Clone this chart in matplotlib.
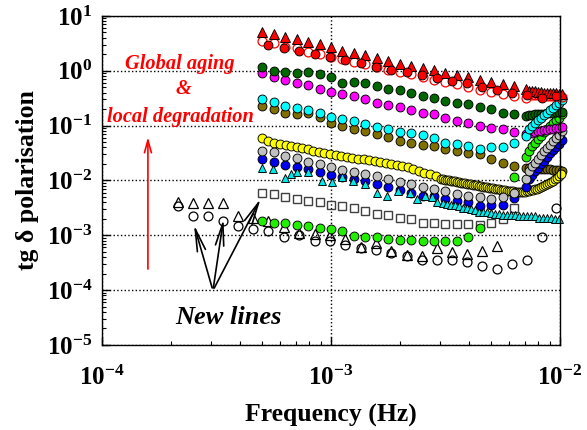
import matplotlib
matplotlib.use('Agg')
import matplotlib.pyplot as plt
from matplotlib.ticker import LogLocator, NullFormatter

plt.rcParams['font.family'] = ['Liberation Serif', 'DejaVu Serif']
plt.rcParams['mathtext.fontset'] = 'custom'
plt.rcParams['mathtext.rm'] = 'Liberation Serif:bold'
plt.rcParams['mathtext.bf'] = 'Liberation Serif:bold'

# frequency grids (Hz)
freq_main = [5.0e-4, 5.62e-4, 6.31e-4, 7.08e-4, 7.94e-4, 8.91e-4, 1.0e-3, 1.12e-3, 1.26e-3, 1.41e-3,
             1.58e-3, 1.78e-3, 2.0e-3, 2.24e-3, 2.51e-3, 2.82e-3, 3.16e-3, 3.55e-3, 3.98e-3, 4.47e-3,
             5.01e-3, 5.62e-3, 6.31e-3, 7.08e-3]
freq_tail = [7.32e-3, 7.54e-3, 7.78e-3, 8.01e-3, 8.26e-3, 8.51e-3, 8.77e-3, 9.04e-3, 9.32e-3, 9.61e-3,
             9.90e-3, 1.02e-2]
freq_sparse = [2.15e-4, 2.50e-4, 2.90e-4, 3.38e-4, 3.93e-4, 4.56e-4, 5.31e-4, 6.23e-4, 7.24e-4, 8.51e-4,
               9.90e-4, 1.15e-3, 1.35e-3, 1.57e-3, 1.83e-3, 2.15e-3, 2.50e-3, 2.90e-3, 3.38e-3, 3.93e-3,
               4.56e-3, 5.31e-3, 6.17e-3, 7.18e-3, 8.34e-3, 9.61e-3]
freq_dense = [3.084e-3, 3.147e-3, 3.211e-3, 3.276e-3, 3.343e-3, 3.411e-3, 3.480e-3, 3.551e-3, 3.623e-3,
              3.697e-3, 3.772e-3, 3.849e-3, 3.927e-3, 4.007e-3, 4.088e-3, 4.171e-3, 4.256e-3, 4.343e-3,
              4.431e-3, 4.521e-3, 4.613e-3, 4.707e-3, 4.803e-3, 4.900e-3, 5.000e-3, 5.102e-3, 5.205e-3,
              5.311e-3, 5.419e-3, 5.529e-3, 5.642e-3, 5.757e-3, 5.874e-3, 5.993e-3, 6.115e-3, 6.239e-3,
              6.366e-3, 6.496e-3, 6.628e-3, 6.762e-3, 6.900e-3, 7.040e-3, 7.183e-3, 7.329e-3, 7.478e-3,
              7.630e-3, 7.785e-3, 7.944e-3, 8.105e-3, 8.270e-3, 8.438e-3, 8.610e-3, 8.785e-3, 8.963e-3,
              9.146e-3, 9.331e-3, 9.521e-3, 9.715e-3, 9.912e-3, 1.011e-2]
freq_yellow = [5.0e-4, 5.32e-4, 5.64e-4, 5.98e-4, 6.34e-4, 6.69e-4, 7.08e-4, 7.49e-4, 7.91e-4, 8.37e-4,
               8.87e-4, 9.32e-4, 9.90e-4, 1.05e-3, 1.11e-3, 1.17e-3, 1.24e-3, 1.31e-3, 1.39e-3, 1.47e-3,
               1.55e-3, 1.64e-3, 1.73e-3, 1.83e-3, 1.94e-3, 2.05e-3, 2.16e-3, 2.29e-3, 2.42e-3, 2.55e-3,
               2.70e-3, 2.86e-3, 3.02e-3] + freq_dense
freq_tri = [5.0e-4, 5.58e-4, 6.30e-4, 6.69e-4, 7.08e-4, 7.94e-4, 9.14e-4, 1.01e-3, 1.12e-3, 1.25e-3,
            1.41e-3, 1.59e-3, 1.76e-3, 1.96e-3, 2.21e-3, 2.38e-3, 2.57e-3, 2.76e-3, 2.90e-3]

# tg delta values
red_tri = [5.1, 4.7, 4.2, 3.8, 3.4, 3.1, 2.7, 2.3, 2.1, 1.95, 1.72, 1.52, 1.34, 1.23, 1.13, 1.04, 0.92,
           0.85, 0.78, 0.69, 0.62, 0.58, 0.53, 0.47,
           0.43, 0.42, 0.42, 0.41, 0.41, 0.40, 0.40, 0.40, 0.39, 0.39, 0.38, 0.38]
red_open = [3.56, 3.23, 2.73, 2.62, 2.21, 2.04, 1.80, 1.65, 1.46, 1.34, 1.18, 1.04, 0.96, 0.88, 0.78,
            0.69, 0.63, 0.58, 0.51, 0.45, 0.415, 0.38, 0.34, 0.32,
            0.37, 0.36, 0.36, 0.36, 0.35, 0.35, 0.35, 0.34, 0.34, 0.34, 0.34, 0.33]
red_full = [2.97, 2.62, 2.31, 2.04, 1.80, 1.58, 1.40, 1.18, 1.04, 0.96, 0.85, 0.75, 0.66, 0.60, 0.51,
            0.45, 0.40, 0.36, 0.32, 0.35]
dark_green = [1.18, 1.0, 0.96, 0.91, 0.96, 0.88, 0.78, 0.60, 0.63, 0.60, 0.53, 0.47, 0.45, 0.40, 0.34,
              0.32, 0.285, 0.26, 0.25, 0.22, 0.20, 0.17, 0.165, 0.15,
              0.158, 0.158, 0.162, 0.162, 0.165, 0.165, 0.169, 0.172, 0.172, 0.176, 0.18, 0.18]
magenta = [0.92, 0.78, 0.69, 0.60, 0.56, 0.47, 0.41, 0.38, 0.34, 0.30, 0.26, 0.24, 0.22, 0.195, 0.17,
           0.16, 0.14, 0.123, 0.113, 0.10, 0.092, 0.085, 0.075, 0.07,
           0.072, 0.074, 0.076, 0.078, 0.08, 0.082, 0.084, 0.086, 0.088, 0.09, 0.092, 0.094]
cyan = [0.30, 0.27, 0.23, 0.21, 0.19, 0.17, 0.146, 0.129, 0.12, 0.105, 0.096, 0.085, 0.075, 0.072,
        0.066, 0.060, 0.049, 0.047, 0.043, 0.038, 0.040, 0.040, 0.049, 0.065,
        0.085, 0.097, 0.11, 0.125, 0.14, 0.155, 0.17, 0.19, 0.21, 0.235, 0.26, 0.29]
olive = [0.23, 0.20, 0.17, 0.16, 0.17, 0.146, 0.113, 0.10, 0.088, 0.078, 0.069, 0.061, 0.053, 0.049,
         0.045, 0.042, 0.037, 0.034, 0.032, 0.030, 0.025, 0.021, 0.018, 0.017,
         0.017, 0.017, 0.0165, 0.0165, 0.016, 0.016, 0.016, 0.0158, 0.0156, 0.0155, 0.0153, 0.015]
yellow = [0.060, 0.052, 0.048, 0.0465, 0.044, 0.042, 0.040, 0.039, 0.038, 0.035, 0.033, 0.032, 0.0306,
          0.029, 0.0277, 0.0265, 0.0259, 0.0248, 0.0241, 0.0234, 0.0224, 0.0215, 0.021, 0.0201, 0.019,
          0.0182, 0.0175, 0.0158, 0.0148, 0.0138, 0.0129, 0.0120, 0.0107,
          0.0104, 0.0103, 0.0101, 0.0100, 0.0098, 0.0097, 0.0096, 0.0094, 0.0093, 0.0091, 0.0090,
          0.0089, 0.0087, 0.0086, 0.0085, 0.0084, 0.0082, 0.0081, 0.0080, 0.0078, 0.0077, 0.0076,
          0.0075, 0.0074, 0.0073, 0.0072, 0.0071, 0.0069, 0.0069, 0.0068, 0.0067, 0.0066, 0.0065,
          0.0064, 0.0064, 0.0063, 0.0062, 0.0062, 0.0062, 0.0062, 0.0062, 0.0062, 0.0064, 0.0064,
          0.0067, 0.0068, 0.0069, 0.0071, 0.0074, 0.0076, 0.0078, 0.0081, 0.0085, 0.0088, 0.0093,
          0.0098, 0.0104, 0.0112, 0.0121, 0.0132]
gray = [0.0337, 0.0323, 0.0273, 0.0251, 0.0221, 0.0195, 0.0172, 0.0152, 0.0140, 0.0129, 0.0118, 0.0104,
        0.0092, 0.0085, 0.0075, 0.0069, 0.0063, 0.0056, 0.0051, 0.0049, 0.0045, 0.0049, 0.0060, 0.0105,
        0.015, 0.018, 0.021, 0.025, 0.029, 0.034, 0.039, 0.045, 0.052, 0.060, 0.068, 0.078]
blue = [0.0241, 0.0212, 0.0187, 0.0172, 0.0158, 0.0140, 0.0123, 0.0113, 0.0104, 0.0096, 0.0085, 0.0075,
        0.0066, 0.0060, 0.0053, 0.0051, 0.0045, 0.0042, 0.0040, 0.0034, 0.0036, 0.0036, 0.0047, 0.0075,
        0.0105, 0.0125, 0.015, 0.017, 0.020, 0.023, 0.027, 0.031, 0.036, 0.041, 0.047, 0.054]
cyan_tri = [0.0165, 0.0158, 0.0109, 0.0129, 0.0140, 0.0140, 0.0096, 0.0092, 0.0113, 0.0096, 0.0085,
            0.0060, 0.0051, 0.0063, 0.0060, 0.0045, 0.0051, 0.0049, 0.0040]
# dense part of the cyan-triangle sweep, one value every other freq_dense point
cyan_tri_dense = [0.0038, 0.0037, 0.0036, 0.0035, 0.0034, 0.0032, 0.0031, 0.0030, 0.0029, 0.0027,
                  0.0026, 0.0026, 0.0025, 0.0024, 0.0024, 0.0023, 0.0023, 0.0023, 0.0023, 0.0022,
                  0.0022, 0.0022, 0.0022, 0.0022, 0.0021, 0.0021, 0.0021, 0.0021, 0.0020, 0.0020]
squares = [0.0060, 0.0056, 0.0049, 0.0045, 0.0042, 0.0040, 0.0035, 0.0034, 0.0031, 0.0028, 0.0024,
           0.0023, 0.0021, 0.0020, 0.0017, 0.00166, 0.0016, 0.0016, 0.0016, 0.00153, 0.0017, 0.0020,
           0.0032]
lime = [0.0018, 0.0017, 0.00166, 0.00153, 0.00147, 0.00136, 0.0013, 0.0012, 0.00098, 0.00094, 0.00094,
        0.00087, 0.00083, 0.00083, 0.0008, 0.0008, 0.00077, 0.0008, 0.00094, 0.00136,
        0.0115, 0.027,
        0.035, 0.042, 0.049, 0.057, 0.065, 0.075, 0.085, 0.097, 0.11, 0.125, 0.14, 0.16]
new_tri = [0.0040, 0.0039, 0.0039, 0.0039, 0.0022, 0.0021, 0.0018, 0.0014, 0.0011, 0.00105, 0.0010,
           0.00085, 0.0006, 0.00071, 0.00052, 0.00044, 0.00042, 0.00058, 0.00049, 0.00045, 0.00052,
           0.00063]
new_circ = [0.0034, 0.0022, 0.0022, 0.0018, 0.0015, 0.0013, 0.00117, 0.00091, 0.00099, 0.00078, 0.00078,
            0.00066, 0.00058, 0.00053, 0.00047, 0.00041, 0.00035, 0.00035, 0.00036, 0.00032, 0.00027,
            0.00024, 0.00030, 0.00035, 0.00091, 0.0032]

x_ticks = [1e-4, 1e-3, 1e-2]
x_ticklabels = [r'$\mathbf{10^{-4}}$', r'$\mathbf{10^{-3}}$', r'$\mathbf{10^{-2}}$']
y_ticks = [1e-5, 1e-4, 1e-3, 1e-2, 1e-1, 1e0, 1e1]
y_ticklabels = [r'$\mathbf{10^{-5}}$', r'$\mathbf{10^{-4}}$', r'$\mathbf{10^{-3}}$', r'$\mathbf{10^{-2}}$',
                r'$\mathbf{10^{-1}}$', r'$\mathbf{10^{0}}$', r'$\mathbf{10^{1}}$']

fig = plt.figure(figsize=(5.87, 4.30), dpi=100)
ax = fig.add_axes([0.174, 0.198, 0.780, 0.765])

ms = 6.4
ew = 0.65


def dots(x, y, face, edge='black', marker='o', size=ms, lw=ew):
    ax.plot(x[:len(y)], y, linestyle='none', marker=marker, markersize=size, markerfacecolor=face,
            markeredgecolor=edge, markeredgewidth=lw, clip_on=False)


main_tail = freq_main + freq_tail
dots(freq_sparse, new_circ, 'none', lw=0.9)
dots(freq_sparse, new_tri, 'none', marker='^', size=6.8, lw=0.9)
dots(freq_main, squares, 'none', edge='#404040', marker='s', size=6.0, lw=1.0)
dots(freq_main[:20] + freq_main[22:] + freq_tail, lime, '#22ee00')
dots(main_tail, olive, '#807000')
dots(freq_yellow, yellow, '#ffff00')
dots(main_tail, blue, '#0000ee')
dots(main_tail, gray, '#c0c0c0')
dots(freq_tri + freq_dense[::2], cyan_tri + cyan_tri_dense, '#00e8e8', marker='^', size=6.3)
dots(main_tail, magenta, '#ff00ff')
dots(main_tail, dark_green, '#006600')
dots(main_tail, cyan, '#00ffff')
dots(main_tail, red_open, 'none', edge='#ff0000', lw=0.9)
dots(main_tail, red_tri, '#ff0000', marker='^', size=7.0)
dots(freq_sparse[6:], red_full, '#ff0000')

ax.set_xscale('log')
ax.set_yscale('log')
ax.set_xlim(1e-4, 1e-2)
ax.set_ylim(1e-5, 1e1)
ax.set_xticks(x_ticks)
ax.set_xticklabels(x_ticklabels, fontsize=18)
ax.set_yticks(y_ticks)
ax.set_yticklabels(y_ticklabels, fontsize=18)
ax.xaxis.set_minor_locator(LogLocator(base=10, subs=range(2, 10), numticks=20))
ax.yaxis.set_minor_locator(LogLocator(base=10, subs=range(2, 10), numticks=20))
ax.xaxis.set_minor_formatter(NullFormatter())
ax.yaxis.set_minor_formatter(NullFormatter())
ax.tick_params(which='major', direction='in', length=6, width=1, top=False, right=False)
ax.tick_params(which='minor', direction='in', length=3, width=0.8, top=False, right=False)
ax.tick_params(axis='x', which='major', pad=15)
ax.tick_params(axis='y', which='major', pad=7)
ax.grid(True, which='major', linestyle=':', color='black', linewidth=1)
ax.set_axisbelow(True)
for s in ax.spines.values():
    s.set_linewidth(1)

ax.set_xlabel('Frequency (Hz)', fontsize=18.5, fontweight='bold', labelpad=10)
ax.set_ylabel('tg δ polarisation', fontsize=18.5, fontweight='bold', labelpad=6)

red_font = dict(color='red', fontsize=14.7, fontweight='bold', fontstyle='italic', ha='center',
                va='center', transform=ax.transAxes)
ax.text(0.170, 0.855, 'Global aging', **red_font)
ax.text(0.177, 0.779, '&', **red_font)
ax.text(0.172, 0.694, 'local degradation', **red_font)
ax.annotate('', xy=(0.100, 0.640), xytext=(0.100, 0.222), xycoords='axes fraction',
            arrowprops=dict(arrowstyle='->,head_length=0.9,head_width=0.25', color='red', lw=1.2))

ax.text(0.275, 0.083, 'New lines', fontsize=19, fontweight='bold', fontstyle='italic', ha='center',
        va='center', transform=ax.transAxes)
for tip in [(0.199, 0.373), (0.266, 0.391), (0.349, 0.452)]:
    ax.annotate('', xy=tip, xytext=(0.242, 0.165), xycoords='axes fraction',
                arrowprops=dict(arrowstyle='->,head_length=1.6,head_width=0.3', color='black', lw=1.2))

fig.savefig('out.png', dpi=100)
